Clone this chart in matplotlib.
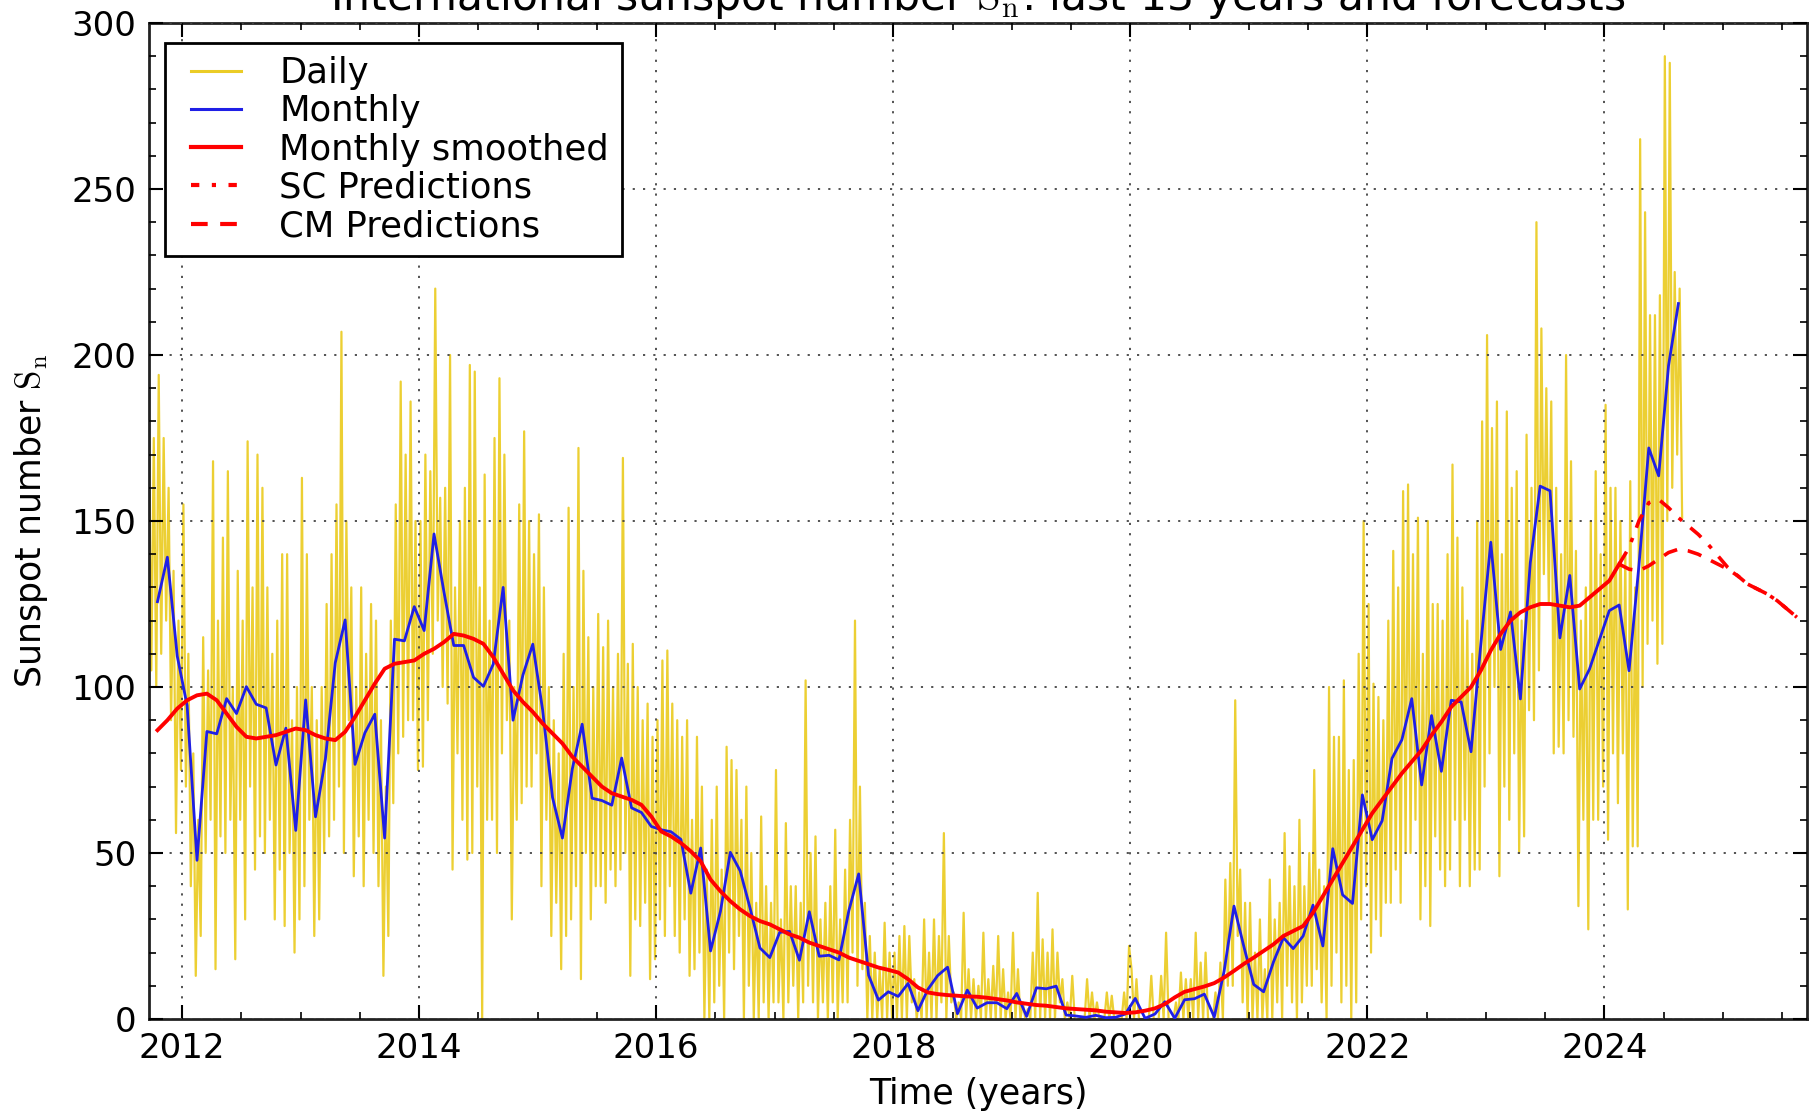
import numpy as np
import matplotlib
matplotlib.use("Agg")
import matplotlib.pyplot as plt
from matplotlib.ticker import MultipleLocator
from matplotlib.lines import Line2D
from matplotlib.legend_handler import HandlerLine2D

plt.rcParams['font.family'] = ['DejaVu Sans']
plt.rcParams['mathtext.fontset'] = 'cm'

# ---------------- data ----------------
# Monthly mean values, Oct 2011 .. Aug 2024
monthly_start = (2011, 10)
monthly_values = [
    125.7, 139.1, 109.3,
    94.4, 47.8, 86.6, 85.9, 96.5, 92.0, 100.1, 94.8, 93.7, 76.5, 87.6, 56.8,
    96.1, 60.9, 78.3, 107.3, 120.2, 76.7, 86.2, 91.8, 54.5, 114.4, 113.9, 124.2,
    117.0, 146.1, 128.7, 112.5, 112.5, 102.9, 100.2, 106.9, 130.0, 90.0, 103.6, 112.9,
    93.0, 66.7, 54.5, 75.3, 88.8, 66.5, 65.8, 64.4, 78.6, 63.6, 62.2, 58.0,
    57.0, 56.4, 54.1, 37.9, 51.5, 20.5, 32.4, 50.2, 44.6, 33.4, 21.4, 18.5,
    26.1, 26.4, 17.7, 32.3, 18.9, 19.2, 17.8, 32.6, 43.7, 13.2, 5.7, 8.2,
    6.8, 10.7, 2.5, 8.9, 13.1, 15.6, 1.6, 8.7, 3.3, 4.9, 4.9, 3.1,
    7.7, 0.8, 9.4, 9.1, 9.9, 1.2, 0.9, 0.5, 1.1, 0.4, 0.5, 1.5,
    6.2, 0.2, 1.5, 5.2, 0.2, 5.8, 6.1, 7.5, 0.6, 14.4, 34.0, 21.8,
    10.4, 8.2, 17.2, 24.5, 21.2, 25.0, 34.3, 22.0, 51.3, 37.4, 34.8, 67.5,
    54.0, 59.7, 78.5, 84.1, 96.5, 70.5, 91.4, 74.6, 96.0, 95.5, 80.5, 113.1,
    143.6, 111.3, 122.6, 96.4, 137.4, 160.5, 159.1, 114.8, 133.6, 99.4, 105.4, 114.2,
    123.0, 124.7, 104.9, 136.5, 172.0, 163.6, 196.8, 215.5,
]

# 13-month smoothed values, Oct 2011 .. Feb 2024
smoothed_start = (2011, 10)
smoothed_values = [
    87, 90, 93.5,
    96, 97.5, 98, 96, 92, 88, 85, 84.5, 85, 85.5, 86.5, 87.5,
    87, 85.5, 84.5, 84, 86.5, 91, 96, 101, 105.5, 107, 107.5, 108,
    110, 111.5, 113.5, 116, 115.5, 114.5, 113, 109, 104, 99, 95.5, 92.5,
    89, 86, 83, 79, 76, 73, 70, 68, 67, 66, 64.5, 61,
    56.5, 55, 53, 50.5, 47.5, 42, 38.5, 35.5, 33, 31, 29.5, 28.5,
    27, 25.5, 24.5, 23, 22, 21, 20, 18.5, 17.5, 16.5, 15.5, 14.8,
    14, 12, 9.5, 8, 7.5, 7.2, 7, 6.8, 6.7, 6.4, 6, 5.6,
    5, 4.6, 4.2, 4, 3.6, 3.2, 3, 2.8, 2.6, 2.2, 2, 1.8,
    2, 2.5, 3.2, 4.5, 6.5, 8.2, 9, 9.8, 10.8, 12.5, 14.5, 16.6,
    18.5, 20.5, 22.5, 25, 26.5, 28, 32, 37, 42, 47, 52, 57,
    62, 66, 70, 74, 77.5, 81, 85.5, 89.5, 94, 97, 100, 105,
    111, 116, 120, 122.5, 124, 125, 125, 124.5, 124, 124.5, 127, 129.5,
    132, 137,
]

# Forecasts, Feb 2024 .. Aug 2025
pred_start = (2024, 2)
sc_pred = [137, 142, 150, 155.5, 156.5, 154, 151, 148.5, 146, 143, 139.5,
           136, 133.5, 131, 129.5, 128, 126, 123.5, 121]
cm_pred = [137, 135.5, 135, 136.5, 138.5, 140.5, 141.5, 141, 140, 138.5, 137,
           135.5, 133.5, 131, 129.5, 128, 126, 123.5, 121]

# Daily values (4 readings per month), Sep 2011 .. Aug 2024
daily_start = (2011, 9)
daily_per_month = 4
daily_values = [
    150, 95, 175, 105,  175, 100, 194, 110,  175, 120, 160, 90,  135, 56, 120, 75,
    # 2012
    155, 70, 110, 40,  80, 13, 60, 25,  115, 50, 105, 60,  168, 15, 120, 55,
    145, 50, 165, 60,  100, 18, 135, 60,  120, 30, 174, 70,  130, 45, 170, 55,
    160, 50, 130, 60,  110, 30, 120, 45,  140, 28, 140, 50,  90, 20, 100, 30,
    # 2013
    163, 40, 140, 60,  100, 25, 90, 30,  100, 50, 125, 55,  140, 60, 155, 70,
    207, 50, 150, 90,  130, 43, 100, 55,  130, 40, 110, 60,  125, 50, 120, 40,
    90, 13, 70, 25,  120, 65, 155, 80,  192, 85, 170, 90,  186, 90, 150, 75,
    # 2014
    150, 76, 170, 90,  165, 110, 220, 120,  157, 100, 160, 95,  200, 45, 130, 80,
    150, 60, 160, 48,  197, 50, 195, 70,  130, 0, 164, 60,  120, 60, 175, 50,
    193, 80, 170, 90,  120, 30, 100, 60,  155, 65, 177, 70,  150, 70, 140, 80,
    # 2015
    152, 40, 130, 60,  100, 25, 90, 35,  80, 15, 110, 25,  154, 30, 100, 40,
    172, 12, 135, 50,  115, 30, 100, 40,  122, 40, 112, 35,  120, 45, 100, 40,
    110, 45, 169, 50,  107, 13, 113, 30,  100, 28, 90, 35,  95, 12, 85, 18,
    # 2016
    90, 30, 108, 25,  111, 40, 95, 25,  90, 20, 85, 30,  90, 13, 60, 15,
    85, 20, 70, 0,  45, 0, 60, 5,  70, 10, 45, 0,  82, 20, 78, 15,
    75, 25, 60, 0,  70, 10, 50, 0,  35, 0, 61, 5,  40, 0, 35, 5,
    # 2017
    75, 5, 30, 0,  59, 5, 40, 10,  40, 0, 35, 5,  102, 10, 50, 5,
    55, 0, 30, 5,  35, 0, 40, 5,  57, 0, 30, 5,  45, 5, 60, 20,
    120, 10, 70, 15,  35, 0, 25, 0,  20, 0, 15, 0,  29, 0, 20, 0,
    # 2018
    20, 0, 25, 0,  28, 0, 25, 5,  12, 0, 8, 0,  30, 0, 20, 0,
    30, 0, 25, 5,  56, 0, 25, 5,  8, 0, 5, 0,  32, 0, 15, 0,
    12, 0, 10, 0,  26, 0, 12, 0,  16, 0, 25, 0,  15, 0, 8, 0,
    # 2019
    26, 0, 15, 0,  5, 0, 3, 0,  20, 0, 38, 0,  24, 0, 20, 0,
    27, 0, 20, 5,  12, 0, 5, 0,  13, 0, 0, 0,  0, 0, 12, 0,
    8, 0, 5, 0,  0, 0, 8, 0,  7, 0, 0, 0,  0, 8, 0, 22,
    # 2020
    15, 0, 12, 0,  0, 0, 0, 0,  13, 0, 0, 0,  13, 0, 26, 0,
    0, 0, 5, 0,  14, 0, 12, 0,  12, 0, 26, 0,  17, 0, 20, 0,
    0, 0, 8, 0,  17, 0, 42, 10,  47, 10, 96, 25,  45, 5, 35, 0,
    # 2021
    35, 0, 20, 0,  30, 0, 15, 0,  42, 0, 30, 5,  35, 0, 56, 10,
    46, 5, 40, 0,  60, 5, 40, 10,  50, 10, 75, 15,  45, 5, 40, 0,
    100, 10, 85, 20,  85, 5, 102, 10,  75, 0, 78, 5,  110, 30, 150, 40,
    # 2022
    125, 20, 101, 30,  97, 25, 90, 35,  120, 35, 141, 45,  130, 35, 159, 50,
    161, 50, 140, 60,  151, 30, 110, 40,  150, 28, 125, 55,  125, 45, 120, 40,
    140, 45, 167, 60,  145, 40, 130, 60,  120, 40, 110, 45,  150, 45, 180, 70,
    # 2023
    206, 80, 178, 100,  186, 43, 140, 70,  183, 60, 160, 80,  165, 50, 120, 55,
    176, 93, 160, 90,  240, 105, 208, 134,  190, 125, 186, 80,  160, 82, 140, 80,
    200, 90, 168, 85,  141, 34, 120, 60,  130, 27, 150, 60,  165, 60, 140, 70,
    # 2024
    185, 54, 160, 80,  160, 65, 150, 80,  140, 33, 162, 52,  130, 52, 265, 100,
    243, 113, 212, 120,  212, 107, 218, 113,  290, 150, 288, 160,  225, 170, 220, 151,
]

legend_labels = ["Daily", "Monthly", "Monthly smoothed", "SC Predictions", "CM Predictions"]
x_ticks = [2012, 2014, 2016, 2018, 2020, 2022, 2024]
y_ticks = [0, 50, 100, 150, 200, 250, 300]


def month_axis(start, n):
    y, m = start
    return y + (m - 1 + 0.5 + np.arange(n)) / 12.0


def daily_axis(start, n, per):
    y, m = start
    return y + (m - 1) / 12.0 + (np.arange(n) + 0.5) / (12.0 * per)


# ---------------- figure ----------------
W, H = 1820, 1114
fig = plt.figure(figsize=(W / 100, H / 100), dpi=100)
ax = fig.add_axes([149 / W, 1 - 1019 / H, (1807 - 149) / W, (1019 - 23) / H])

yellow = '#e8c400'
blue = '#1f1fe6'
red = '#ff0000'

xd = daily_axis(daily_start, len(daily_values), daily_per_month)
ax.plot(xd, daily_values, color=yellow, lw=1.6, alpha=0.8, zorder=2)
ax.plot(month_axis(monthly_start, len(monthly_values)), monthly_values,
        color=blue, lw=2.0, zorder=3)
ax.plot(month_axis(smoothed_start, len(smoothed_values)), smoothed_values,
        color=red, lw=2.8, zorder=4)
xp = month_axis(pred_start, len(sc_pred))
ax.plot(xp, sc_pred, color=red, lw=2.6, ls=(0, (4, 3, 1.2, 3)), zorder=4)
ax.plot(xp, cm_pred, color=red, lw=2.6, ls=(0, (4, 3)), zorder=4)

ax.set_xlim(2011.72, 2025.71)
ax.set_ylim(0, 300)
ax.set_xticks(x_ticks)
ax.set_yticks(y_ticks)
ax.xaxis.set_minor_locator(MultipleLocator(0.5))
ax.yaxis.set_minor_locator(MultipleLocator(10))
ax.tick_params(which='both', direction='in', top=True, right=True, colors='black')
ax.tick_params(which='major', length=10, width=1.5, labelsize=24.5, pad=9)
ax.tick_params(which='minor', length=5, width=1.2)
for s in ax.spines.values():
    s.set_linewidth(2.0)
    s.set_color('#222222')

ax.grid(True, which='major', color='#444444', lw=1.3, ls=(0, (1.2, 4.5)))
ax.set_axisbelow(False)

ax.set_xlabel("Time (years)", fontsize=25)
ax.xaxis.set_label_coords(0.5, -0.058)
ax.set_ylabel(r"Sunspot number $\mathrm{S_n}$", fontsize=25)
ax.yaxis.set_label_coords(-0.0598, 0.5)

fig.text((149 + 1807) / 2 / W, 1 - 10 / H,
         r"International sunspot number $\mathrm{S_n}$: last 13 years and forecasts",
         ha='center', va='baseline', fontsize=30.6)

handles = [
    Line2D([], [], color=yellow, lw=2.2, alpha=0.85),
    Line2D([], [], color=blue, lw=2.2),
    Line2D([], [], color=red, lw=3.0),
    Line2D([], [], color=red, lw=3.0, ls=(0, (2, 3, 1, 3))),
    Line2D([], [], color=red, lw=3.0, ls=(0, (4, 3))),
]
hmap = {h: HandlerLine2D(xpad=0.37) for h in handles}
leg = ax.legend(handles, legend_labels, loc='upper left',
                bbox_to_anchor=(16 / 1658, 1 - 20 / 996), borderaxespad=0,
                fontsize=25.5, handlelength=1.78, handletextpad=1.07,
                labelspacing=0.12, borderpad=0.37, fancybox=False,
                framealpha=1, edgecolor='black', handler_map=hmap)
leg.get_frame().set_linewidth(2.0)
leg.set_zorder(10)

fig.savefig("out.png", dpi=100)
